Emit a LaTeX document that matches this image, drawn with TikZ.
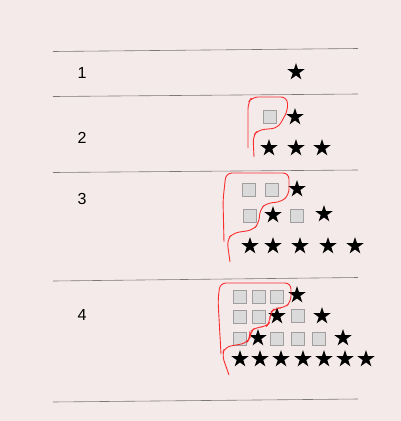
\documentclass[tikz,border=0pt]{standalone}
\usepackage{fontspec}
\setmainfont{Liberation Sans}
\usetikzlibrary{shapes.geometric}
\definecolor{bgc}{RGB}{245,234,234}
\definecolor{rulec}{RGB}{125,120,120}
\definecolor{sqfill}{RGB}{218,218,218}
\definecolor{sqdraw}{RGB}{160,158,158}
\definecolor{redpen}{RGB}{250,45,45}
\tikzset{
  starnode/.style={star, star points=5, star point ratio=2.6, fill=black, draw=none, minimum size=18pt, inner sep=0pt},
  sqnode/.style={rectangle, fill=sqfill, draw=sqdraw, line width=0.8pt, minimum size=12.5pt, inner sep=0pt},
  rowrule/.style={draw=rulec, line width=0.6pt},
  numlabel/.style={font=\fontsize{16}{19}\selectfont, inner sep=0pt},
  redline/.style={draw=redpen, line width=0.9pt, rounded corners=6pt}
}
\begin{document}
\begin{tikzpicture}[x=1pt,y=-1pt]
\fill[bgc] (0,0) rectangle (401,421);
\useasboundingbox (0,0) rectangle (401,421);
% rules
\draw[rowrule] (53,51.5) -- (358,48.5);
\draw[rowrule] (53,96.5) -- (358,94);
\draw[rowrule] (53,172.5) -- (358,170);
\draw[rowrule] (53,281) -- (358,277.5);
\draw[rowrule] (53,402) -- (358,399);
% labels
\node[numlabel] (n1) at (82,73) {1};
\node[numlabel] (n2) at (82,138) {2};
\node[numlabel] (n3) at (82,199) {3};
\node[numlabel] (n4) at (82,315) {4};
% row 1
\node[starnode] (a1) at (296,72) {};
% row 2
\node[sqnode] (b1) at (270,117) {};
\node[starnode] (b2) at (295,117) {};
\node[starnode] (b3) at (269,148) {};
\node[starnode] (b4) at (296,148) {};
\node[starnode] (b5) at (322,148) {};
% row 3
\node[sqnode] (c1) at (249,190) {};
\node[sqnode] (c2) at (272,190) {};
\node[starnode] (c3) at (297,189) {};
\node[sqnode] (c4) at (250,216) {};
\node[starnode] (c5) at (273,215) {};
\node[sqnode] (c6) at (297,216) {};
\node[starnode] (c7) at (324,214) {};
\node[starnode] (c8) at (250,246) {};
\node[starnode] (c9) at (273,246) {};
\node[starnode] (c10) at (300,246) {};
\node[starnode] (c11) at (328,246) {};
\node[starnode] (c12) at (355,246) {};
% row 4
\node[sqnode] (d1) at (240,297) {};
\node[sqnode] (d2) at (259,297) {};
\node[sqnode] (d3) at (277,297) {};
\node[starnode] (d4) at (297,295) {};
\node[sqnode] (d5) at (240,317) {};
\node[sqnode] (d6) at (259,317) {};
\node[starnode] (d7) at (277,316) {};
\node[sqnode] (d8) at (298,316) {};
\node[starnode] (d9) at (322,316) {};
\node[sqnode] (d10) at (240,339) {};
\node[starnode] (d11) at (258,338) {};
\node[sqnode] (d12) at (277,339) {};
\node[sqnode] (d13) at (298,339) {};
\node[sqnode] (d14) at (319,339) {};
\node[starnode] (d15) at (343,338) {};
\node[starnode] (d16) at (240,359) {};
\node[starnode] (d17) at (260,359) {};
\node[starnode] (d18) at (281,359) {};
\node[starnode] (d19) at (303,359) {};
\node[starnode] (d20) at (324,359) {};
\node[starnode] (d21) at (345,359) {};
\node[starnode] (d22) at (366,359) {};
% red hand-drawn outlines
\draw[redline] (254,157) -- (253,136) -- (258,130) -- (278,128) -- (288,110) -- (287,97) -- (252,97) -- (248,103) -- (248,148);
\draw[redline] (230,262) -- (227,240) -- (233,233) -- (253,230) -- (259,223) -- (260,209) -- (267,203) -- (281,202) -- (289,195) -- (289,173) -- (226,173) -- (223,200) -- (224,242);
\draw[redline] (229,375) -- (222,355) -- (225,347) -- (247,343) -- (250,337) -- (250,332) -- (256,327) -- (266,327) -- (270,322) -- (270,313) -- (275,308) -- (284,308) -- (291,302) -- (291,283) -- (220,283) -- (218,300) -- (221,354);
\end{tikzpicture}
\end{document}
